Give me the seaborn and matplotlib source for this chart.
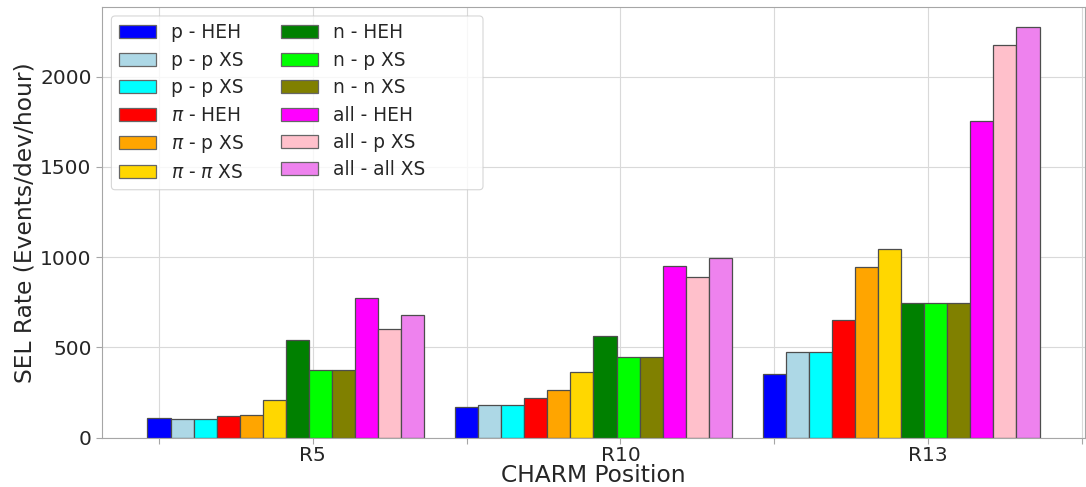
import numpy as np
import pandas as pd
import matplotlib
matplotlib.use("Agg")
import matplotlib.pyplot as plt
import seaborn as sns
from matplotlib.patches import Patch, FancyBboxPatch
from matplotlib.transforms import IdentityTransform

positions = ["R5", "R10", "R13"]
series_labels = ["p - HEH", "p - p XS", "p - p XS", r"$\pi$ - HEH", r"$\pi$ - p XS", r"$\pi$ - $\pi$ XS",
                 "n - HEH", "n - p XS", "n - n XS", "all - HEH", "all - p XS", "all - all XS"]
colors = ["blue", "lightblue", "cyan", "red", "orange", "gold",
          "green", "lime", "olive", "magenta", "pink", "violet"]

p_heh = [107, 168, 354]
p_pxs = [102, 179, 474]
p_pxs2 = [102, 179, 474]
pi_heh = [122, 220, 650]
pi_pxs = [127, 264, 945]
pi_pixs = [207, 364, 1046]
n_heh = [541, 565, 747]
n_pxs = [375, 448, 744]
n_nxs = [375, 448, 744]
all_heh = [771, 950, 1755]
all_pxs = [600, 889, 2175]
all_allxs = [679, 993, 2273]

values = [p_heh, p_pxs, p_pxs2, pi_heh, pi_pxs, pi_pixs,
          n_heh, n_pxs, n_nxs, all_heh, all_pxs, all_allxs]

rows = []
for k, vals in enumerate(values):
    for pos, v in zip(positions, vals):
        rows.append({"pos": pos, "series": f"s{k}", "val": v})
df = pd.DataFrame(rows)

sns.set_style("whitegrid", {"axes.edgecolor": "0.65", "grid.color": "0.85",
                            "xtick.bottom": True, "ytick.left": True})
plt.rcParams["font.family"] = ["DejaVu Sans"]

fig = plt.figure(figsize=(10.86, 4.87), dpi=100)
ax = fig.add_axes([0.094, 0.1013, 0.905, 0.885])

hue_order = [f"s{k}" for k in range(len(series_labels))]
sns.barplot(data=df, x="pos", y="val", hue="series", hue_order=hue_order,
            palette=dict(zip(hue_order, colors)), saturation=1, width=0.9, dodge=True,
            edgecolor="0.3", linewidth=0.9, ax=ax, errorbar=None, legend=False)

shift = 0.0875
ax.set_xlim(-0.5975, 2.5975)
ax.set_xticks([i + shift for i in range(3)])
ax.set_xticklabels(positions)
ax.set_xticks([i + shift - 0.5 for i in range(3)] + [2.5 + shift], minor=True)
ax.xaxis.grid(True, which="both", color="0.85")
ax.yaxis.grid(True, color="0.85")
ax.set_axisbelow(True)
ax.set_yticks([0, 500, 1000, 1500, 2000])
ax.set_ylim(0, 2387)
ax.tick_params(axis="both", which="both", labelsize=14.5, color="0.65", length=4, width=0.8)
ax.tick_params(axis="x", which="both", pad=2)
ax.set_xlabel("CHARM Position", fontsize=16.8, labelpad=-1)
ax.set_ylabel("SEL Rate (Events/dev/hour)", fontsize=16.8, labelpad=3)
for s in ax.spines.values():
    s.set_color("0.65")

fs = 13.4
handles = [Patch(facecolor=c, edgecolor="0.4", linewidth=0.9) for c in colors]
leg = ax.legend(handles, series_labels, ncol=2, loc="upper left", fontsize=fs,
                frameon=False, labelspacing=0.45,
                columnspacing=2.0, handlelength=2.0, handletextpad=0.8)
leg.set_zorder(10)

# legend frame, a bit wider than the packed entries (as in the reference)
fig.canvas.draw()
bb = leg.get_window_extent()
extra_px = 50
mscale = fs * fig.dpi / 72.0
frame = FancyBboxPatch((bb.x0, bb.y0), bb.width + extra_px, bb.height,
                       boxstyle="round,pad=0,rounding_size=0.2", mutation_scale=mscale,
                       transform=IdentityTransform(), facecolor=(1, 1, 1, 0.8),
                       edgecolor=(0.8, 0.8, 0.8, 0.8), linewidth=0.8, zorder=9)
frame.set_clip_on(False)
ax.add_artist(frame)
frame.set_transform(IdentityTransform())

fig.savefig("out.png", dpi=100)
